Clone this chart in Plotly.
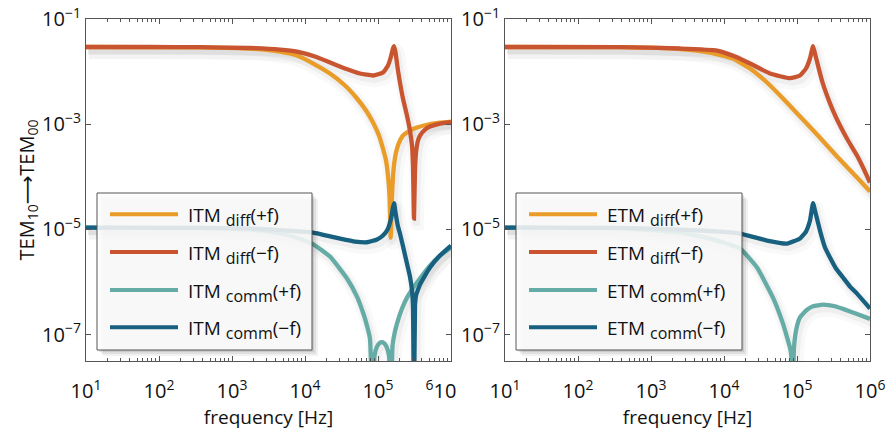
import numpy as np
import plotly.graph_objects as go

# ---------------- data (log10 values) ----------------
# Left panel: ITM
itm_diff_p_logf = [1.0, 2.562, 3.247, 3.658, 3.890, 4.137, 4.342, 4.548, 4.712, 4.836, 4.932, 5.014,
                   5.068, 5.110, 5.137, 5.158, 5.174, 5.192, 5.212, 5.233, 5.260, 5.301, 5.342, 5.438,
                   5.534, 5.712, 5.849, 6.0]
itm_diff_p_logy = [-1.532, -1.538, -1.561, -1.618, -1.694, -1.865, -2.036, -2.264, -2.511, -2.740, -2.968, -3.215,
                   -3.462, -3.690, -3.975, -4.356, -5.154, -4.356, -3.880, -3.633, -3.462, -3.310, -3.215, -3.120,
                   -3.063, -2.996, -2.968, -2.949]

itm_diff_m_logf = [1.0, 1.877, 2.562, 3.247, 3.658, 3.890, 4.137, 4.342, 4.548, 4.753, 4.932, 5.068, 5.137,
                   5.178, 5.205, 5.220, 5.240, 5.274, 5.301, 5.342, 5.397, 5.438, 5.466, 5.479, 5.493, 5.507,
                   5.521, 5.548, 5.575, 5.644, 5.712, 5.849, 6.0]
itm_diff_m_logy = [-1.532, -1.532, -1.536, -1.551, -1.580, -1.618, -1.713, -1.827, -1.941, -2.036, -2.074, -2.017, -1.884,
                   -1.713, -1.561, -1.517, -1.637, -1.979, -2.207, -2.511, -2.835, -3.120, -3.405, -3.785, -4.793, -3.880,
                   -3.538, -3.310, -3.215, -3.101, -3.044, -2.987, -2.958]

itm_comm_p_logf = [1.0, 2.562, 3.247, 3.521, 3.795, 4.096, 4.342, 4.575, 4.712, 4.795, 4.849, 4.890, 4.927,
                   4.952, 4.986, 5.021, 5.051, 5.082, 5.116, 5.151, 5.174, 5.199, 5.226, 5.260, 5.329, 5.397,
                   5.534, 5.712, 5.849, 6.0]
itm_comm_p_logy = [-4.964, -4.970, -5.002, -5.040, -5.116, -5.268, -5.515, -5.933, -6.276, -6.579, -6.827, -7.074, -8.5,
                   -7.397, -7.226, -7.160, -7.141, -7.160, -7.226, -7.397, -8.5, -7.207, -6.979, -6.789, -6.503, -6.295,
                   -6.009, -5.686, -5.496, -5.344]

itm_comm_m_logf = [1.0, 2.562, 3.247, 3.658, 4.110, 4.479, 4.685, 4.849, 4.986, 5.068, 5.137, 5.178, 5.205,
                   5.220, 5.240, 5.274, 5.301, 5.356, 5.397, 5.438, 5.466, 5.479, 5.493, 5.507, 5.521, 5.548,
                   5.575, 5.644, 5.712, 5.849, 6.0]
itm_comm_m_logy = [-4.964, -4.968, -4.983, -5.011, -5.059, -5.173, -5.230, -5.243, -5.192, -5.116, -4.983, -4.793, -4.584,
                   -4.502, -4.679, -4.945, -5.078, -5.401, -5.648, -5.895, -6.162, -6.447, -8.5, -6.447, -6.257, -6.143,
                   -6.047, -5.876, -5.724, -5.496, -5.306]

# Right panel: ETM
etm_diff_p_logf = [1.0, 2.575, 3.397, 3.808, 4.123, 4.356, 4.589, 4.808, 5.041, 5.274, 5.548, 5.822, 6.0]
etm_diff_p_logy = [-1.532, -1.536, -1.570, -1.637, -1.751, -1.941, -2.207, -2.511, -2.854, -3.196, -3.614, -4.013, -4.279]

etm_diff_m_logf = [1.0, 2.575, 3.397, 3.904, 4.151, 4.356, 4.630, 4.904, 5.041, 5.123, 5.178, 5.220, 5.253,
                   5.288, 5.342, 5.411, 5.493, 5.589, 5.699, 5.822, 5.918, 6.0]
etm_diff_m_logy = [-1.532, -1.534, -1.561, -1.599, -1.713, -1.846, -2.036, -2.125, -2.074, -1.941, -1.751, -1.517, -1.694,
                   -1.884, -2.169, -2.454, -2.740, -3.025, -3.310, -3.595, -3.861, -4.108]

etm_comm_p_logf = [1.0, 2.575, 3.397, 3.808, 4.219, 4.452, 4.671, 4.808, 4.877, 4.904, 4.925, 4.941, 4.959,
                   4.996, 5.041, 5.133, 5.219, 5.356, 5.521, 5.630, 5.822, 6.0]
etm_comm_p_logy = [-4.964, -4.973, -5.059, -5.173, -5.363, -5.724, -6.295, -6.789, -7.112, -7.245, -7.435, -8.5, -7.24,
                   -6.86, -6.67, -6.53, -6.46, -6.43, -6.46, -6.51, -6.605, -6.70]

etm_comm_m_logf = [1.0, 2.575, 3.397, 3.945, 4.219, 4.589, 4.863, 5.041, 5.123, 5.178, 5.220, 5.253, 5.288,
                   5.315, 5.384, 5.452, 5.534, 5.630, 5.726, 5.822, 6.0]
etm_comm_m_logy = [-4.964, -4.970, -5.002, -5.040, -5.078, -5.211, -5.268, -5.173, -5.040, -4.831, -4.502, -4.679, -4.871,
                   -5.021, -5.344, -5.534, -5.743, -5.914, -6.085, -6.219, -6.503]

SUBSTYLE = '<sub><span style="font-size:16px">{}</span></sub>'
itm_names = ["ITM " + SUBSTYLE.format("diff") + "(+f)", "ITM " + SUBSTYLE.format("diff") + "(\u2212f)",
             "ITM " + SUBSTYLE.format("comm") + "(+f)", "ITM " + SUBSTYLE.format("comm") + "(\u2212f)"]
etm_names = ["ETM " + SUBSTYLE.format("diff") + "(+f)", "ETM " + SUBSTYLE.format("diff") + "(\u2212f)",
             "ETM " + SUBSTYLE.format("comm") + "(+f)", "ETM " + SUBSTYLE.format("comm") + "(\u2212f)"]
colors = ["#E99C28", "#C8552F", "#66ACA6", "#17607F"]

x_tick_vals = [1e1, 1e2, 1e3, 1e4, 1e5, 1e6]
x_tick_text_left = ["10<sup>1</sup>", "10<sup>2</sup>", "10<sup>3</sup>", "10<sup>4</sup>", "10<sup>5</sup>",
                    "<sup>6</sup>10\u2002\u2002"]
x_tick_text_right = ["10<sup>1</sup>", "10<sup>2</sup>", "10<sup>3</sup>", "10<sup>4</sup>", "10<sup>5</sup>", "10<sup>6</sup>"]
y_tick_vals = [1e-1, 1e-3, 1e-5, 1e-7]
y_tick_text = ["10<sup>\u22121</sup>", "10<sup>\u22123</sup>", "10<sup>\u22125</sup>", "10<sup>\u22127</sup>"]

left_series = [(itm_diff_p_logf, itm_diff_p_logy), (itm_diff_m_logf, itm_diff_m_logy),
               (itm_comm_p_logf, itm_comm_p_logy), (itm_comm_m_logf, itm_comm_m_logy)]
right_series = [(etm_diff_p_logf, etm_diff_p_logy), (etm_diff_m_logf, etm_diff_m_logy),
                (etm_comm_p_logf, etm_comm_p_logy), (etm_comm_m_logf, etm_comm_m_logy)]

# ---------------- figure ----------------
W, H = 886, 432
ML, MR, MT, MB = 86, 16, 19, 71
PW, PH = W - ML - MR, H - MT - MB
FONT = "Open Sans, Noto Sans, DejaVu Sans, sans-serif"

fig = go.Figure()

# soft shadows under the curves
for xa, ya, series in (("x", "y", left_series), ("x2", "y2", right_series)):
    for lf, ly in series:
        f = 10 ** np.array(lf)
        v = 10 ** np.array(ly)
        for w, a, dx, dy in ((14, 0.025, 3.0, 5.0), (8, 0.04, 2.0, 3.5)):
            fig.add_trace(go.Scatter(x=f * 10 ** (dx / 73), y=v * 10 ** (-dy / 52.6), mode="lines",
                                     line=dict(color=f"rgba(0,0,0,{a})", width=w, shape="spline", smoothing=0.4),
                                     xaxis=xa, yaxis=ya, showlegend=False, hoverinfo="skip"))

for xa, ya, series, names in (("x", "y", left_series, itm_names), ("x2", "y2", right_series, etm_names)):
    for (lf, ly), c, n in zip(series, colors, names):
        fig.add_trace(go.Scatter(x=10 ** np.array(lf), y=10 ** np.array(ly), mode="lines", name=n,
                                 line=dict(color=c, width=4.3, shape="spline", smoothing=0.4),
                                 xaxis=xa, yaxis=ya, showlegend=False))

minor_vals = [m * 10 ** k for k in range(1, 6) for m in range(2, 10)]
axis_common = dict(type="log", showgrid=False, zeroline=False, showline=True, linecolor="#555555",
                   linewidth=1, mirror="allticks", ticks="inside", ticklen=5, tickcolor="#555555",
                   automargin=False,
                   tickfont=dict(family=FONT, size=20, color="#111111"))
xcommon = dict(axis_common, range=[1, 6], tickmode="array", tickvals=x_tick_vals, ticklabelstandoff=12,
               minor=dict(ticks="inside", ticklen=3, tickcolor="#555555", tickmode="array", tickvals=minor_vals),
               title=dict(text="frequency [Hz]", font=dict(family=FONT, size=19, color="#111111"), standoff=0))
ycommon = dict(axis_common, range=[-7.5, -1], tickmode="array", tickvals=y_tick_vals, ticktext=y_tick_text)

fig.update_layout(
    width=W, height=H, margin=dict(l=ML, r=MR, t=MT, b=MB, autoexpand=False),
    paper_bgcolor="white", plot_bgcolor="white", showlegend=False,
    font=dict(family=FONT, size=18, color="#111111"),
    xaxis=dict(xcommon, domain=[0, 365 / PW], anchor="y", ticktext=x_tick_text_left),
    xaxis2=dict(xcommon, domain=[419 / PW, 1], anchor="y2", ticktext=x_tick_text_right),
    yaxis=dict(ycommon, domain=[0, 1], anchor="x",
               title=dict(text="TEM<sub>10</sub>\u27F6TEM<sub>00</sub>",
                          font=dict(family=FONT, size=20, color="#111111"), standoff=2)),
    yaxis2=dict(ycommon, domain=[0, 1], anchor="x2"),
)


def px(x):
    return (x - ML) / PW


def py(y):
    return (H - MB - y) / PH


shapes = []
annotations = []
legend_boxes = [(97, 312, 110, 178, 186, itm_names), (516, 742, 529, 597, 605, etm_names)]
row_y = [214.3, 252.0, 290.0, 327.3]
for bx0, bx1, lx0, lx1, tx, names in legend_boxes:
    # drop shadow
    for off, a in ((6, 0.05), (4, 0.07), (2, 0.09)):
        shapes.append(dict(type="rect", xref="paper", yref="paper", layer="above",
                           x0=px(bx0 + off), x1=px(bx1 + off), y0=py(350 + off), y1=py(193 + off),
                           line=dict(width=0), fillcolor=f"rgba(0,0,0,{a})"))
    shapes.append(dict(type="rect", xref="paper", yref="paper", layer="above",
                       x0=px(bx0), x1=px(bx1), y0=py(350), y1=py(193),
                       line=dict(color="#555555", width=1), fillcolor="rgba(255,255,255,0.86)"))
    for ry, c, n in zip(row_y, colors, names):
        shapes.append(dict(type="line", xref="paper", yref="paper", layer="above",
                           x0=px(lx0), x1=px(lx1), y0=py(ry), y1=py(ry),
                           line=dict(color=c, width=4)))
        annotations.append(dict(xref="paper", yref="paper", x=px(tx), y=py(ry + 2), text=n,
                                showarrow=False, xanchor="left", yanchor="middle",
                                font=dict(family=FONT, size=19, color="#111111")))

fig.update_layout(shapes=shapes, annotations=annotations)
fig.write_html("out.html", config={"displayModeBar": False},
               post_script="document.body.style.margin='0';document.body.style.overflow='hidden';")
